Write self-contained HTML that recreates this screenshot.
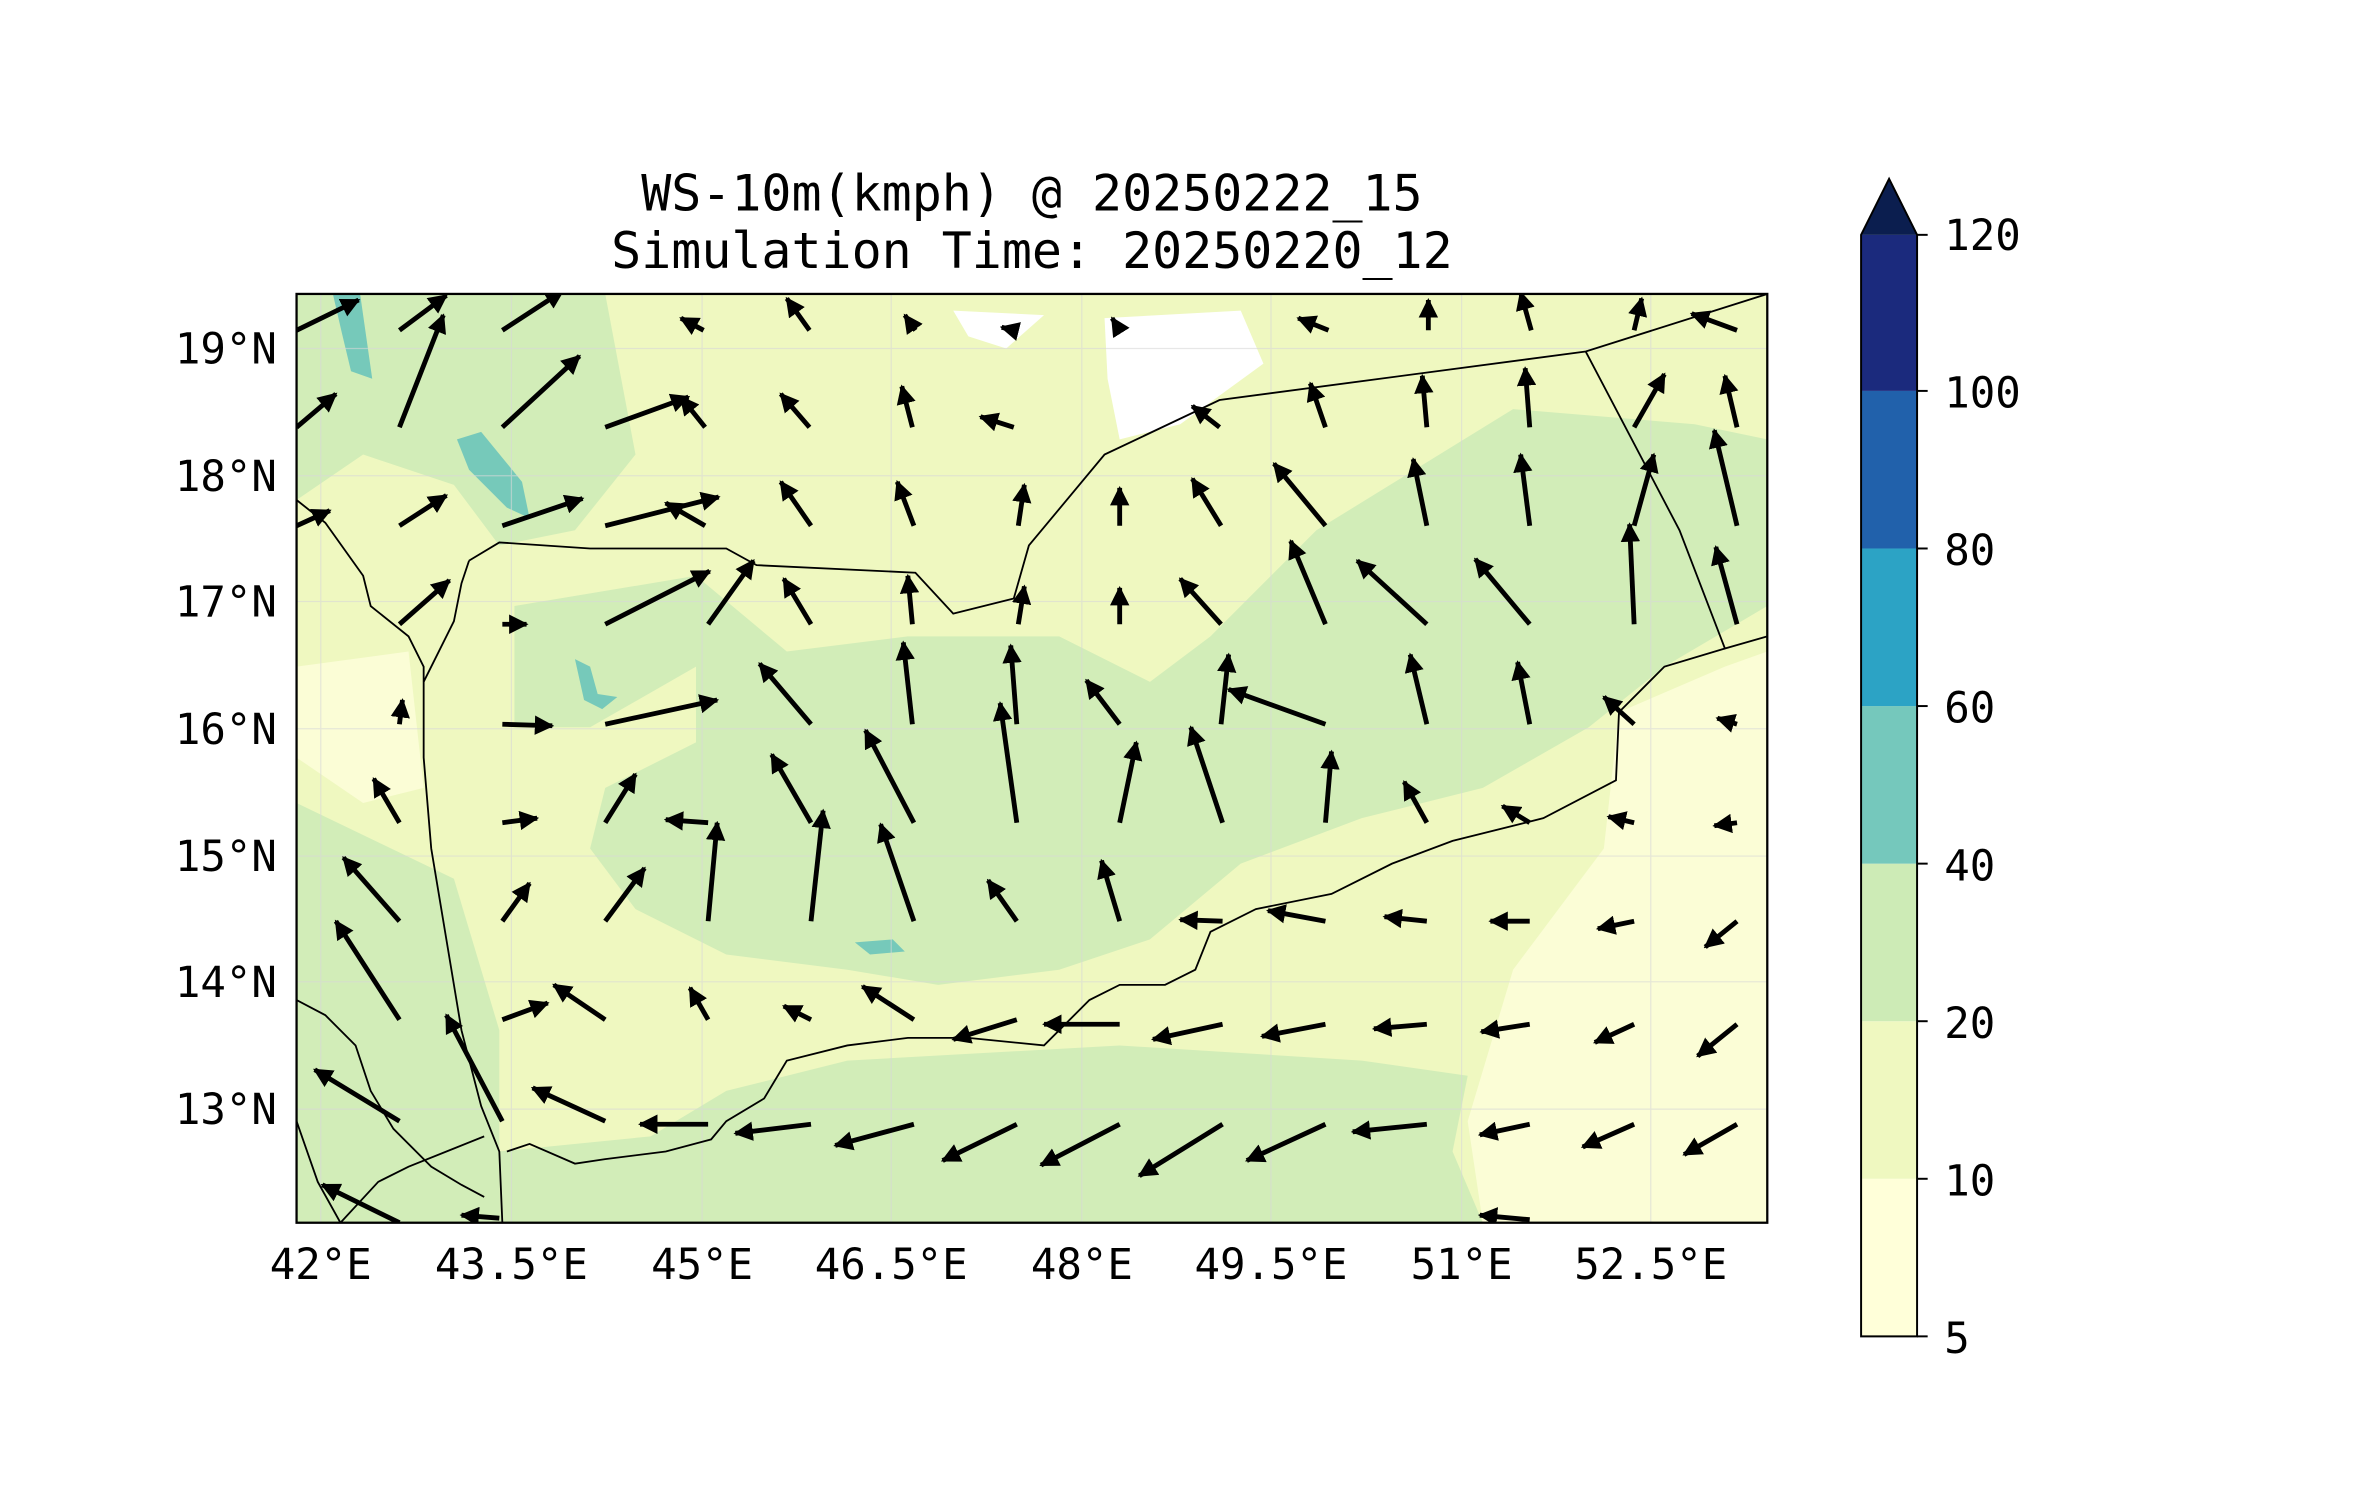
<!DOCTYPE html>
<html><head><meta charset="utf-8"><style>html,body{margin:0;padding:0;background:#fff}svg{display:block}</style></head><body>
<svg width="2371" height="1500" viewBox="0 0 1567 990" preserveAspectRatio="none" xmlns="http://www.w3.org/2000/svg">
<defs>
<marker id="ah" viewBox="0 0 10 10" refX="9" refY="5" markerWidth="4" markerHeight="4" orient="auto" markerUnits="strokeWidth"><path d="M0,0 L10,5 L0,10 z" fill="#000"/></marker>
<clipPath id="mc"><rect x="196" y="194" width="972" height="613"/></clipPath>
</defs>
<rect width="1567" height="990" fill="#fff"/>
<g font-family="DejaVu Sans Mono, Liberation Mono, monospace" font-size="33" text-anchor="middle" fill="#000">
<text x="682" y="139">WS-10m(kmph) @ 20250222_15</text>
<text x="682" y="177">Simulation Time: 20250220_12</text>
</g>
<g clip-path="url(#mc)">
<rect x="196" y="194" width="972" height="613" fill="#eff8c0"/>
<g fill="#d2edb8">
<polygon points="196,194 400,194 420,300 380,350 330,360 300,320 240,300 196,330"/>
<polygon points="340,400 460,380 520,430 600,420 700,420 760,450 800,420 870,350 1000,270 1120,280 1168,290 1168,400 1100,440 1050,480 980,520 900,540 820,570 760,620 700,640 620,650 560,640 480,630 420,600 390,560 400,520 460,490 460,440 390,480 340,480"/>
<polygon points="480,720 560,700 740,690 900,700 970,710 960,760 980,807 330,807 330,760 430,750"/>
<polygon points="196,530 300,580 330,680 330,807 196,807"/>
</g>
<g fill="#fbfdd6">
<polygon points="1070,470 1140,440 1168,430 1168,807 980,807 970,740 1000,640 1060,560"/>
<polygon points="196,440 270,430 280,520 240,530 196,500"/>
</g>
<g fill="#fff">
<polygon points="730,210 820,205 835,240 780,280 740,290 732,250"/>
<polygon points="630,205 690,208 665,230 640,222"/>
</g>
<g fill="#76c9ba">
<polygon points="220,194 238,194 246,250 232,245 226,220"/>
<polygon points="302,290 318,285 345,318 350,342 335,335 310,310"/>
<polygon points="380,435 390,440 395,458 408,460 398,468 386,462"/>
<polygon points="565,622 590,620 598,628 575,630"/>
</g>
<g stroke="#d8d8d8" stroke-width="0.8" opacity="0.6">
<line x1="212" y1="194" x2="212" y2="807"/><line x1="338" y1="194" x2="338" y2="807"/><line x1="464" y1="194" x2="464" y2="807"/><line x1="589" y1="194" x2="589" y2="807"/><line x1="715" y1="194" x2="715" y2="807"/><line x1="840" y1="194" x2="840" y2="807"/><line x1="966" y1="194" x2="966" y2="807"/><line x1="1091" y1="194" x2="1091" y2="807"/>
<line x1="196" y1="230" x2="1168" y2="230"/><line x1="196" y1="314" x2="1168" y2="314"/><line x1="196" y1="397" x2="1168" y2="397"/><line x1="196" y1="481" x2="1168" y2="481"/><line x1="196" y1="565" x2="1168" y2="565"/><line x1="196" y1="648" x2="1168" y2="648"/><line x1="196" y1="732" x2="1168" y2="732"/>
</g>
<g fill="none" stroke="#000" stroke-width="1.2">
<polyline points="310,370 330,358 390,362 480,362 500,373 605,378 630,405 670,395 680,360 730,300 806,264 1048,232 1168,194"/>
<polyline points="1048,232 1110,350 1140,428 1168,420"/>
<polyline points="1140,428 1100,440 1070,470 1068,515 1020,540 960,555 920,570 880,590 830,600 800,615 790,640 770,650 740,650 720,660 690,690 640,685 600,685 560,690 520,700 505,725 480,740 470,752 440,760 400,765 380,768 350,755 335,760"/>
<polyline points="196,330 215,345 240,380 245,400 270,420 280,440 280,500 285,560 295,620 305,680 318,730 330,760 332,807"/>
<polyline points="310,370 305,385 300,410 285,440 280,450"/>
<polyline points="196,660 215,670 235,690 245,720 260,745 285,770 305,782 320,790"/>
<polyline points="196,740 210,780 225,807"/>
<polyline points="225,807 250,780 270,770 300,758 320,750"/>
</g>
<g stroke="#000" stroke-width="3.2" marker-end="url(#ah)">
<line x1="196" y1="218" x2="237" y2="198"/><line x1="264" y1="218" x2="295" y2="195"/><line x1="332" y1="218" x2="372" y2="192"/><line x1="465" y1="218" x2="450" y2="210"/><line x1="535" y1="218" x2="520" y2="197"/><line x1="605" y1="218" x2="598" y2="208"/><line x1="670" y1="218" x2="662" y2="216"/><line x1="740" y1="218" x2="735" y2="210"/><line x1="878" y1="218" x2="858" y2="210"/><line x1="944" y1="218" x2="944" y2="198"/><line x1="1012" y1="218" x2="1005" y2="193"/><line x1="1080" y1="218" x2="1085" y2="197"/><line x1="1148" y1="218" x2="1118" y2="207"/>
<line x1="196" y1="282" x2="222" y2="260"/><line x1="264" y1="282" x2="293" y2="208"/><line x1="332" y1="282" x2="383" y2="235"/><line x1="400" y1="282" x2="455" y2="262"/><line x1="466" y1="282" x2="450" y2="262"/><line x1="535" y1="282" x2="516" y2="260"/><line x1="603" y1="282" x2="596" y2="255"/><line x1="670" y1="282" x2="648" y2="275"/><line x1="806" y1="282" x2="788" y2="268"/><line x1="876" y1="282" x2="866" y2="253"/><line x1="943" y1="282" x2="940" y2="248"/><line x1="1011" y1="282" x2="1008" y2="243"/><line x1="1080" y1="282" x2="1100" y2="247"/><line x1="1148" y1="282" x2="1140" y2="248"/>
<line x1="196" y1="347" x2="218" y2="337"/><line x1="264" y1="347" x2="295" y2="327"/><line x1="332" y1="347" x2="385" y2="329"/><line x1="400" y1="347" x2="475" y2="328"/><line x1="466" y1="347" x2="440" y2="332"/><line x1="536" y1="347" x2="516" y2="318"/><line x1="604" y1="347" x2="593" y2="318"/><line x1="673" y1="347" x2="677" y2="320"/><line x1="740" y1="347" x2="740" y2="322"/><line x1="807" y1="347" x2="788" y2="316"/><line x1="876" y1="347" x2="842" y2="306"/><line x1="943" y1="347" x2="934" y2="303"/><line x1="1011" y1="347" x2="1005" y2="300"/><line x1="1080" y1="347" x2="1093" y2="300"/><line x1="1148" y1="347" x2="1133" y2="284"/>
<line x1="264" y1="412" x2="297" y2="383"/><line x1="332" y1="412" x2="348" y2="412"/><line x1="400" y1="412" x2="469" y2="377"/><line x1="468" y1="412" x2="498" y2="370"/><line x1="536" y1="412" x2="518" y2="382"/><line x1="603" y1="412" x2="600" y2="380"/><line x1="673" y1="412" x2="677" y2="387"/><line x1="740" y1="412" x2="740" y2="388"/><line x1="807" y1="412" x2="780" y2="382"/><line x1="876" y1="412" x2="853" y2="357"/><line x1="943" y1="412" x2="897" y2="370"/><line x1="1011" y1="412" x2="975" y2="369"/><line x1="1080" y1="412" x2="1077" y2="346"/><line x1="1148" y1="412" x2="1134" y2="361"/>
<line x1="264" y1="478" x2="266" y2="462"/><line x1="332" y1="478" x2="365" y2="479"/><line x1="400" y1="478" x2="474" y2="462"/><line x1="536" y1="478" x2="502" y2="438"/><line x1="603" y1="478" x2="597" y2="424"/><line x1="672" y1="478" x2="668" y2="426"/><line x1="740" y1="478" x2="718" y2="449"/><line x1="807" y1="478" x2="812" y2="432"/><line x1="876" y1="478" x2="812" y2="455"/><line x1="943" y1="478" x2="932" y2="432"/><line x1="1011" y1="478" x2="1003" y2="437"/><line x1="1080" y1="478" x2="1060" y2="460"/><line x1="1148" y1="478" x2="1135" y2="474"/>
<line x1="264" y1="543" x2="247" y2="514"/><line x1="332" y1="543" x2="355" y2="540"/><line x1="400" y1="543" x2="420" y2="511"/><line x1="468" y1="543" x2="440" y2="541"/><line x1="536" y1="543" x2="510" y2="498"/><line x1="604" y1="543" x2="572" y2="482"/><line x1="672" y1="543" x2="661" y2="464"/><line x1="740" y1="543" x2="751" y2="490"/><line x1="808" y1="543" x2="787" y2="480"/><line x1="876" y1="543" x2="880" y2="496"/><line x1="943" y1="543" x2="928" y2="516"/><line x1="1011" y1="543" x2="993" y2="532"/><line x1="1080" y1="543" x2="1063" y2="539"/><line x1="1148" y1="543" x2="1133" y2="545"/>
<line x1="264" y1="608" x2="227" y2="566"/><line x1="332" y1="608" x2="350" y2="583"/><line x1="400" y1="608" x2="426" y2="573"/><line x1="468" y1="608" x2="474" y2="543"/><line x1="536" y1="608" x2="544" y2="535"/><line x1="604" y1="608" x2="582" y2="544"/><line x1="672" y1="608" x2="653" y2="581"/><line x1="740" y1="608" x2="728" y2="568"/><line x1="808" y1="608" x2="780" y2="607"/><line x1="876" y1="608" x2="838" y2="601"/><line x1="943" y1="608" x2="915" y2="605"/><line x1="1011" y1="608" x2="985" y2="608"/><line x1="1080" y1="608" x2="1056" y2="613"/><line x1="1148" y1="608" x2="1127" y2="625"/>
<line x1="264" y1="673" x2="222" y2="608"/><line x1="332" y1="673" x2="362" y2="662"/><line x1="400" y1="673" x2="366" y2="650"/><line x1="468" y1="673" x2="456" y2="652"/><line x1="536" y1="673" x2="518" y2="664"/><line x1="604" y1="673" x2="570" y2="651"/><line x1="672" y1="673" x2="630" y2="686"/><line x1="740" y1="676" x2="690" y2="676"/><line x1="808" y1="676" x2="762" y2="686"/><line x1="876" y1="676" x2="834" y2="684"/><line x1="943" y1="676" x2="908" y2="679"/><line x1="1011" y1="676" x2="979" y2="681"/><line x1="1080" y1="676" x2="1054" y2="688"/><line x1="1148" y1="676" x2="1122" y2="697"/>
<line x1="264" y1="740" x2="208" y2="706"/><line x1="332" y1="740" x2="295" y2="670"/><line x1="400" y1="740" x2="352" y2="718"/><line x1="468" y1="742" x2="423" y2="742"/><line x1="536" y1="742" x2="486" y2="748"/><line x1="604" y1="742" x2="552" y2="756"/><line x1="672" y1="742" x2="623" y2="766"/><line x1="740" y1="742" x2="688" y2="769"/><line x1="808" y1="742" x2="753" y2="776"/><line x1="876" y1="742" x2="824" y2="766"/><line x1="943" y1="742" x2="894" y2="747"/><line x1="1011" y1="742" x2="978" y2="749"/><line x1="1080" y1="742" x2="1046" y2="757"/><line x1="1148" y1="742" x2="1113" y2="762"/>
<line x1="264" y1="807" x2="213" y2="782"/><line x1="330" y1="804" x2="305" y2="802"/><line x1="1011" y1="805" x2="978" y2="802"/>
</g>
</g>
<rect x="196" y="194" width="972" height="613" fill="none" stroke="#000" stroke-width="1.5"/>
<g font-family="DejaVu Sans Mono, Liberation Mono, monospace" font-size="28" fill="#000">
<g text-anchor="middle">
<text x="212" y="844">42°E</text><text x="338" y="844">43.5°E</text><text x="464" y="844">45°E</text><text x="589" y="844">46.5°E</text><text x="715" y="844">48°E</text><text x="840" y="844">49.5°E</text><text x="966" y="844">51°E</text><text x="1091" y="844">52.5°E</text>
</g>
<g text-anchor="end">
<text x="183" y="240">19°N</text><text x="183" y="324">18°N</text><text x="183" y="407">17°N</text><text x="183" y="491">16°N</text><text x="183" y="575">15°N</text><text x="183" y="658">14°N</text><text x="183" y="742">13°N</text>
</g>
<text x="1285" y="165">120</text><text x="1285" y="269">100</text><text x="1285" y="373">80</text><text x="1285" y="477">60</text><text x="1285" y="581">40</text><text x="1285" y="685">20</text><text x="1285" y="789">10</text><text x="1285" y="893">5</text>
</g>
<rect x="1230" y="778" width="37" height="104" fill="#ffffd9"/>
<rect x="1230" y="674" width="37" height="104" fill="#eff8c0"/>
<rect x="1230" y="570" width="37" height="104" fill="#cdebb6"/>
<rect x="1230" y="466" width="37" height="104" fill="#75c8bc"/>
<rect x="1230" y="362" width="37" height="104" fill="#2ca3c5"/>
<rect x="1230" y="258" width="37" height="104" fill="#2161ab"/>
<rect x="1230" y="155" width="37" height="103" fill="#1b2a7d"/>
<polygon points="1230,155 1267,155 1248.5,118" fill="#0b1e4f"/>
<polygon points="1230,882 1230,155 1248.5,118 1267,155 1267,882" fill="none" stroke="#000" stroke-width="1.3"/>
<g stroke="#000" stroke-width="1.3">
<line x1="1267" y1="155" x2="1274" y2="155"/><line x1="1267" y1="258" x2="1274" y2="258"/><line x1="1267" y1="362" x2="1274" y2="362"/><line x1="1267" y1="466" x2="1274" y2="466"/><line x1="1267" y1="570" x2="1274" y2="570"/><line x1="1267" y1="674" x2="1274" y2="674"/><line x1="1267" y1="778" x2="1274" y2="778"/><line x1="1267" y1="882" x2="1274" y2="882"/>
</g>
</svg>
</body></html>
